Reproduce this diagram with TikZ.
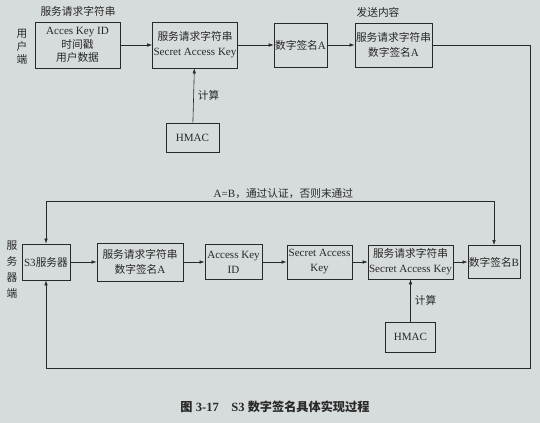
\documentclass[tikz,border=0pt]{standalone}
\usepackage{fontspec}
\setmainfont{Liberation Serif}
\newfontfamily\cjk[Scale=0.97]{Noto Sans CJK SC}
\usepackage{tikz}
\usetikzlibrary{positioning,arrows.meta}
\definecolor{paper}{RGB}{214,219,220}
\definecolor{ink}{RGB}{40,40,40}

\begin{document}
\begin{tikzpicture}[x=0.035cm, y=-0.035cm, font=\fontsize{11}{15}\selectfont,
        box/.style={draw=ink, line width=0.7pt, align=center, inner sep=1pt,
          text=ink},
        conn/.style={draw=ink, line width=0.6pt, -{Latex[length=5pt,width=3.5pt]}},
        lbl/.style={text=ink, inner sep=1pt}]
      \fill[paper] (0,0) rectangle (540,423);
      \useasboundingbox (0,0) rectangle (540,423);
      % user side
      \node[lbl, align=center, font=\fontsize{11}{13}\selectfont] (usr) at (22,47) {\cjk 用\\\cjk 户\\\cjk 端};
      \node[lbl] (reqlbl) at (78,11) {\cjk 服务请求字符串};
      \node[box, minimum width=2.98cm, minimum height=1.61cm, font=\fontsize{11}{13.5}\selectfont] (req) at (77.5,45)
        {Acces Key ID\\{\cjk 时间戳}\\{\cjk 用户数据}};
      \node[box, minimum width=2.94cm, minimum height=1.61cm] (sign) at (195,45)
        {{\cjk 服务请求字符串}\\Secret Access Key};
      \node[box, minimum width=1.86cm, minimum height=1.02cm] (hmac) at (192.5,137.5) {HMAC};
      \node[box, minimum width=1.79cm, minimum height=1.54cm] (siga) at (300.5,45) {{\cjk 数字签名}A};
      \node[lbl] (sendlbl) at (378,12) {\cjk 发送内容};
      \node[box, minimum width=2.56cm, minimum height=1.54cm] (send) at (393.5,45)
        {{\cjk 服务请求字符串}\\{\cjk 数字签名}A};
      \foreach \a/\b in {req/sign,sign/siga,siga/send}
        \draw[conn] (\a) -- (\b);
      \draw[conn] (hmac) -- node[lbl, right=3pt] {\cjk 计算} (sign);
      % server side
      \node[lbl, align=center, font=\fontsize{11}{16}\selectfont] (srv) at (12,270) {\cjk 服\\\cjk 务\\\cjk 器\\\cjk 端};
      \node[box, minimum width=1.68cm, minimum height=1.26cm] (s3) at (46,262) {S3{\cjk 服务器}};
      \node[box, minimum width=3.01cm, minimum height=1.33cm] (recv) at (140,262)
        {{\cjk 服务请求字符串}\\{\cjk 数字签名}A};
      \node[box, minimum width=2.0cm, minimum height=1.23cm] (akid) at (233.5,262) {Access Key\\ID};
      \node[box, minimum width=2.28cm, minimum height=1.19cm] (sak) at (319.5,262) {Secret Access\\Key};
      \node[box, minimum width=2.77cm, minimum height=1.19cm] (sign2) at (410.5,262)
        {{\cjk 服务请求字符串}\\Secret Access Key};
      \node[box, minimum width=1.68cm, minimum height=1.16cm] (sigb) at (494,262) {{\cjk 数字签名}B};
      \node[box, minimum width=1.75cm, minimum height=1.05cm] (hmac2) at (410.5,337) {HMAC};
      \foreach \a/\b in {s3/recv,recv/akid,akid/sak,sak/sign2,sign2/sigb}
        \draw[conn] (\a) -- (\b);
      \draw[conn] (hmac2) -- node[lbl, right=3pt] {\cjk 计算} (sign2);
      % compare and return
      \coordinate (cmpL) at (46,201);
      \coordinate (cmpR) at (494,201);
      \draw[conn, {Latex[length=5pt,width=3.5pt]}-{Latex[length=5pt,width=3.5pt]}]
        (s3.north) -- (cmpL) -- node[lbl, above=1pt, pos=0.53] {A=B{\cjk ，通过认证，否则末通过}} (cmpR) -- (sigb.north);
      \coordinate (retA) at (530,45);
      \coordinate (retB) at (530,368);
      \coordinate (retC) at (46,368);
      \draw[conn] (send.east) -- (retA) -- (retB) -- (retC) -- (s3.south);
      \node[lbl, font=\fontsize{12.5}{14}\selectfont\bfseries] (cap) at (275,407)
        {{\cjk 图} 3-17\quad S3 {\cjk 数字签名具体实现过程}};
      \end{tikzpicture}
\end{document}
